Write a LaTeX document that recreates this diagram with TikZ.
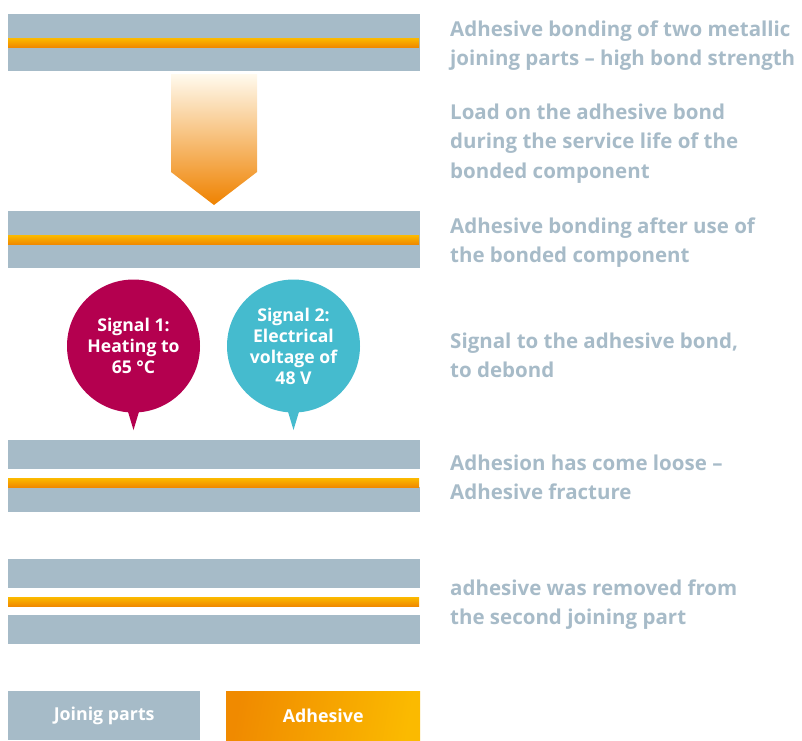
\documentclass[tikz,border=0pt]{standalone}
\usepackage{fontspec}
\setmainfont{Open Sans}
\usetikzlibrary{calc}
\definecolor{plategrey}{HTML}{A6BBC8}
\definecolor{labelgrey}{HTML}{A7BBC8}
\definecolor{glueorange}{HTML}{F08A00}
\definecolor{glueyellow}{HTML}{FBBA00}
\definecolor{signalred}{HTML}{B4004F}
\definecolor{signalcyan}{HTML}{45BBCE}
\definecolor{arrowtop}{HTML}{FFFAEE}
\definecolor{arrowbottom}{HTML}{EF8200}
\tikzset{
  plate/.style={fill=plategrey, draw=none, anchor=north west, minimum width=412pt, inner sep=0pt, outer sep=0pt},
  glue/.style={shade, top color=glueyellow, bottom color=glueorange, draw=none, anchor=north west,
    minimum width=411pt, minimum height=9pt, inner sep=0pt, outer sep=0pt},
  % captions are placed by the baseline of their last line
  caption/.style={anchor=base west, align=left, text=labelgrey, font=\fontsize{20.5}{29.5}\selectfont\bfseries, inner sep=0pt},
  signal/.style={circle, minimum size=133pt, inner sep=0pt, text=white, align=center,
    font=\fontsize{17.6}{21}\selectfont\bfseries},
  legendbox/.style={minimum height=49pt, inner sep=0pt, text=white, font=\fontsize{17.8}{20}\selectfont\bfseries}
}
\begin{document}
\begin{tikzpicture}[x=1pt, y=-1pt]
\useasboundingbox (0,0) rectangle (802,740);

% 1: intact bond
\node[plate, minimum height=57pt] (p1) at (8,14) {};
\node[glue] (g1) at (8,38) {};

% load arrow
\shade[top color=arrowtop, bottom color=arrowbottom]
  (171,74) -- (257,74) -- (257,172) -- (214,205) -- (171,172) -- cycle;
\coordinate (arrowtip) at (214,205);

% 2: bond after service
\node[plate, minimum height=57pt] (p2) at (8,211) {};
\node[glue] (g2) at (8,235) {};

% debonding signals
\node[signal, fill=signalred] (s1) at (133.5,346) {Signal 1:\\Heating to\\65 °C};
\fill[signalred] ($(s1.center)+(-9,54)$) -- ($(s1.center)+(9,54)$) -- (133.5,430) -- cycle;
\node[signal, fill=signalcyan] (s2) at (293.5,346) {Signal 2:\\Electrical\\voltage of\\48 V};
\fill[signalcyan] ($(s2.center)+(-9,54)$) -- ($(s2.center)+(9,54)$) -- (293.5,430) -- cycle;

% 3: adhesive fracture
\node[plate, minimum height=29pt] (p3a) at (8,440) {};
\node[plate, minimum height=25pt] (p3b) at (8,487) {};
\node[glue] (g3) at (8,478) {};

% 4: adhesive removed
\node[plate, minimum height=29pt] (p4a) at (8,559) {};
\node[glue] (g4) at (8,597) {};
\node[plate, minimum height=29pt] (p4b) at (8,615) {};

% legend
\node[legendbox, fill=plategrey, anchor=north west, minimum width=192pt] (lj) at (8,691) {Joinig parts};
\node[legendbox, shade, shading=axis, left color=glueorange, right color=glueyellow, shading angle=80,
  anchor=north west, minimum width=194pt] (la) at (226,691) {Adhesive};

% captions
\node[caption] (c1) at (450,65.5) {Adhesive bonding of two metallic\\joining parts – high bond strength};
\node[caption] (c2) at (450,178) {Load on the adhesive bond\\during the service life of the\\bonded component};
\node[caption] (c3) at (450,262.5) {Adhesive bonding after use of\\the bonded component};
\node[caption] (c4) at (450,377.5) {Signal to the adhesive bond,\\to debond};
\node[caption] (c5) at (450,499.5) {Adhesion has come loose –\\Adhesive fracture};
\node[caption] (c6) at (450,624.5) {adhesive was removed from\\the second joining part};
\end{tikzpicture}
\end{document}
